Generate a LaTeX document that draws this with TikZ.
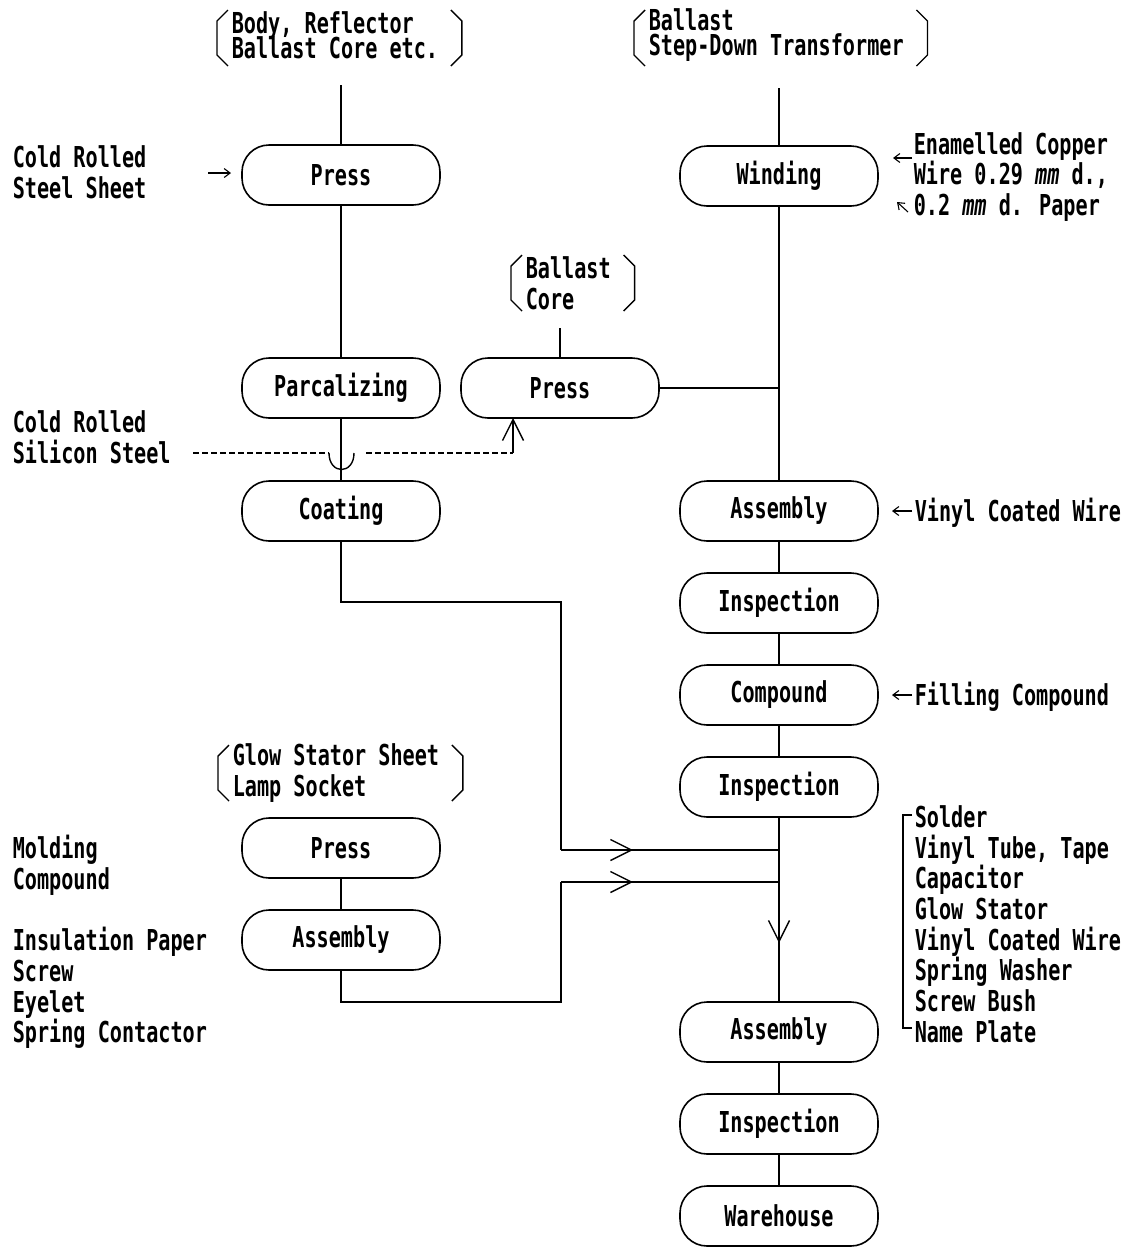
\documentclass[tikz,border=0pt]{standalone}
\usepackage{fontspec}
\newfontfamily\typefont[FakeStretch=0.7]{DejaVu Sans Mono}
\newcommand{\closelines}{\setlength{\lineskiplimit}{-40pt}}
\usepackage{tikz}
\usetikzlibrary{arrows.meta,positioning,calc,decorations.markings}

\begin{document}
\begin{tikzpicture}[x=1pt,y=-1pt,line width=1.6pt,node distance=32pt and 21pt,
  every node/.style={font=\typefont\bfseries\fontsize{28.8}{30.7}\selectfont,align=left,inner sep=0pt},
  tight/.style={font=\typefont\bfseries\fontsize{28.8}{25}\selectfont\closelines},
  stage/.style={draw,rounded corners=27pt,minimum width=198pt,minimum height=60pt,outer sep=0pt,align=center},
  brace/.style={line width=1.4pt},
  feed/.style={postaction={decorate},decoration={markings,mark=at position #1 with {\arrow{Straight Barb[length=21pt,width=21pt,line width=1.4pt]}}}},
  pointer/.style={-{Straight Barb[length=6pt,width=9pt,line width=1.1pt]},line width=1.1pt}]
\useasboundingbox (0,0) rectangle (1128,1248);
% process steps
\node[stage] (press1) at (341,175) {Press};
\node[stage,below=153pt of press1] (parc) {Parcalizing};
\node[stage,below=63pt of parc] (coat) {Coating};
\node[stage,right=of parc] (core) {Press};
\node[stage] (glow) at (341,848) {Press};
\node[stage,below=of glow] (glowasm) {Assembly};
\node[stage] (wind) at (779,176) {Winding};
\node[stage,below=275pt of wind] (asm) {Assembly};
\node[stage,below=of asm] (insp1) {Inspection};
\node[stage,below=of insp1] (comp) {Compound};
\node[stage,below=of comp] (insp2) {Inspection};
\node[stage,below=185pt of insp2] (final) {Assembly};
\node[stage,below=of final] (insp3) {Inspection};
\node[stage,below=of insp3] (store) {Warehouse};
% materials
\node[tight,anchor=west] (body) at (231,35) {Body, Reflector\\Ballast Core etc.};
\node[tight,anchor=west] (ballast) at (648,35) {Ballast\\Step-Down Transformer};
\node[anchor=west] (corelbl) at (525,283) {Ballast\\Core};
\node[anchor=west] (stator) at (232,773) {Glow Stator Sheet\\Lamp Socket};
\node[anchor=west] (sheet) at (12,172) {Cold Rolled\\Steel Sheet};
\node[anchor=west] (silicon) at (12,437) {Cold Rolled\\Silicon Steel};
\node[anchor=west] (molding) at (12,865) {Molding\\Compound};
\node[anchor=west] (parts) at (12,988) {Insulation Paper\\Screw\\Eyelet\\Spring Contactor};
\node[anchor=west] (wire) at (913,177) {Enamelled Copper\\Wire 0.29 \textit{mm} d.,\\0.2 \textit{mm} d. Paper};
\node[anchor=west] (vinyl) at (914,513) {Vinyl Coated Wire};
\node[anchor=west] (filling) at (914,697) {Filling Compound};
\node[anchor=west] (extras) at (914,924) {Solder\\Vinyl Tube, Tape\\Capacitor\\Glow Stator\\Vinyl Coated Wire\\Spring Washer\\Screw Bush\\Name Plate};
% brackets
\foreach \n/\t in {body/-25,ballast/-25,corelbl/-28,stator/-28}{
  \draw[brace] ($(\n.west)+(-3,\t)$) -- ++(-11,11) -- ++(0,34) -- ++(11,11);
  \draw[brace] ($(\n.east)+(12,\t)$) -- ++(11,11) -- ++(0,34) -- ++(-11,11);
}
\draw[brace] ($(extras.west)+(-2,-109)$) -- ++(-9,0) -- ++(0,213) -- ++(9,0);
% flow lines
\coordinate (bodyfoot) at (341,85);
\coordinate (ballastfoot) at (779,88);
\coordinate (corefoot) at (560,328);
\draw (bodyfoot) -- (press1);
\draw (press1) -- (parc);
\draw (parc) -- (coat);
\draw (ballastfoot) -- (wind);
\draw (wind) -- (asm);
\draw (corefoot) -- (core);
\draw (core) -- (core -| wind);
\draw (asm) -- (insp1);
\draw (insp1) -- (comp);
\draw (comp) -- (insp2);
\draw[feed=126pt] (insp2) -- (final);
\draw (final) -- (insp3);
\draw (insp3) -- (store);
\draw (glow) -- (glowasm);
\coordinate (turnA) at (561,602);
\coordinate (dropA) at (561,850);
\coordinate (turnB) at (561,1002);
\coordinate (riseB) at (561,882);
\draw (coat.south) |- (turnA) -- (dropA);
\draw[feed=72pt] (dropA) -- (dropA -| wind);
\draw (glowasm.south) |- (turnB) -- (riseB);
\draw[feed=72pt] (riseB) -- (riseB -| wind);
% silicon steel to both presses
\coordinate (hopL) at (329,453);
\coordinate (hopR) at (354,453);
\coordinate (riseC) at (513,453);
\draw[dashed,dash pattern=on 6pt off 3pt,line width=1.2pt,shorten <=22pt] (silicon.east |- hopL) -- (hopL);
\draw[line width=1.4pt] (hopL) .. controls +(0,22) and +(0,22) .. (hopR);
\draw[dashed,dash pattern=on 6pt off 3pt,line width=1.2pt,shorten <=12pt] (hopR) -- (riseC);
\draw[line width=1.2pt,-{Straight Barb[length=21pt,width=21pt,line width=1.4pt]}] (riseC) -- (riseC |- core.south);
% small pointers
\draw[pointer] ($(press1.west)+(-34,-2)$) -- ++(23,0);
\draw[pointer] ($(wire.west)+(-1,-19)$) -- ++(-19,0);
\draw[pointer] ($(wire.west)+(-5,35)$) -- ++(-11,-10);
\draw[pointer] ($(vinyl.west)+(-2,-2)$) -- ++(-20,0);
\draw[pointer] ($(filling.west)+(-2,-2)$) -- ++(-20,0);
\end{tikzpicture}
\end{document}
